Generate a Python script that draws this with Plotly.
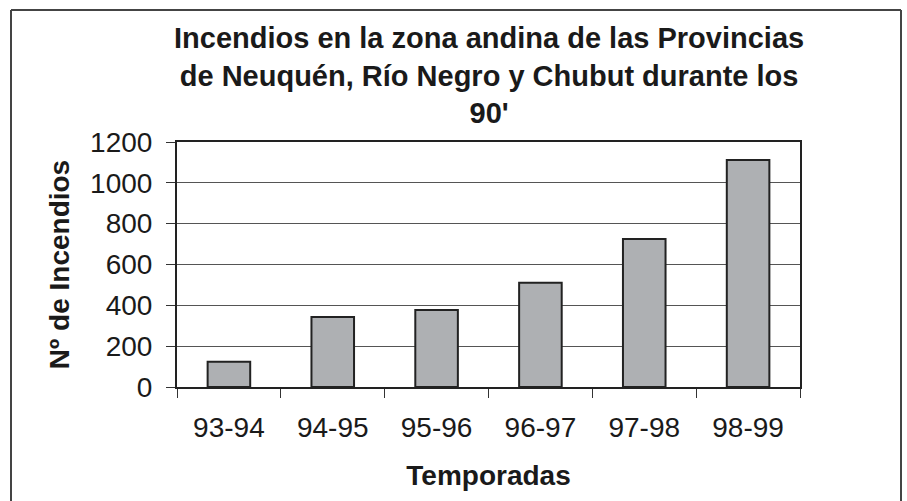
import plotly.graph_objects as go

temporadas = ["93-94", "94-95", "95-96", "96-97", "97-98", "98-99"]
incendios = [124, 343, 377, 511, 725, 1112]
y_ticks = [0, 200, 400, 600, 800, 1000, 1200]

title_text = ("Incendios en la zona andina de las Provincias<br>"
              "de Neuquén, Río Negro y Chubut durante los<br>90'")

W, H = 907, 501
L, R, T, B = 177, 800, 142, 387
TXT = "#1a1a1a"

fig = go.Figure()
fig.add_trace(go.Bar(
    x=temporadas, y=incendios,
    marker=dict(color="#AEB0B3", line=dict(color="#222222", width=2)),
    width=0.41, hoverinfo="skip",
))

def px_x(p):
    return (p - L) / (R - L)

def px_y(p):
    return (B - p) / (B - T)

border = dict(color="#444444", width=2)
bx0, bx1, by_top, by_bot = px_x(11), px_x(901), px_y(10), px_y(520)

fig.update_layout(
    width=W, height=H,
    margin=dict(l=L, r=W - R, t=T, b=H - B, pad=0),
    paper_bgcolor="white", plot_bgcolor="white",
    showlegend=False,
    font=dict(family="Liberation Sans, Arial, sans-serif", color=TXT),
    xaxis=dict(
        showgrid=False, ticks="outside", ticklen=9, tickwidth=1, tickcolor="#333",
        tickson="boundaries", showline=True, linecolor="#222", linewidth=2,
        mirror=True, tickfont=dict(size=28, color=TXT), ticklabelstandoff=14,
        title=dict(text="<b>Temporadas</b>", font=dict(size=28, color=TXT), standoff=24),
        range=[-0.5, 5.5],
    ),
    yaxis=dict(
        range=[0, 1200], tickvals=y_ticks, showgrid=True, gridcolor="#555555", gridwidth=1,
        ticks="outside", ticklen=9, tickwidth=1, tickcolor="#333",
        showline=True, linecolor="#222", linewidth=2, mirror=True,
        tickfont=dict(size=28, color=TXT), ticklabelstandoff=8,
        title=dict(text="<b>Nº de Incendios</b>", font=dict(size=28, color=TXT), standoff=12),
    ),
    annotations=[dict(text="<b>" + title_text + "</b>", xref="paper", yref="paper",
                      x=0.5, y=px_y(75), xanchor="center", yanchor="middle",
                      showarrow=False, font=dict(size=29, color=TXT))],
    shapes=[
        dict(type="line", xref="paper", yref="paper", x0=bx0, x1=bx1, y0=by_top, y1=by_top, line=border),
        dict(type="line", xref="paper", yref="paper", x0=bx0, x1=bx0, y0=by_bot, y1=by_top, line=border),
        dict(type="line", xref="paper", yref="paper", x0=bx1, x1=bx1, y0=by_bot, y1=by_top, line=border),
    ],
)

fig.write_html("out.html", config={"displayModeBar": False},
               post_script="document.body.style.margin='0';")
